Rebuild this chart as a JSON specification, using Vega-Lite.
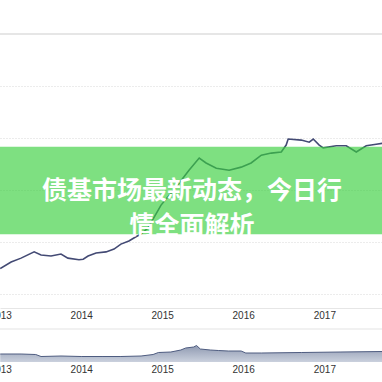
{
  "$schema": "https://vega.github.io/schema/vega-lite/v6.json",
  "width": 382,
  "height": 382,
  "padding": 0,
  "autosize": {"type": "none"},
  "background": "#ffffff",
  "config": {"view": {"stroke": null}},
  "datasets": {
    "fund": [
      {"date": "2013-01-01", "nav": 1.049},
      {"date": "2013-02-19", "nav": 1.0615},
      {"date": "2013-04-05", "nav": 1.069},
      {"date": "2013-06-03", "nav": 1.081},
      {"date": "2013-07-04", "nav": 1.075},
      {"date": "2013-08-18", "nav": 1.073},
      {"date": "2013-10-02", "nav": 1.077},
      {"date": "2013-11-02", "nav": 1.069},
      {"date": "2013-12-22", "nav": 1.066},
      {"date": "2014-01-10", "nav": 1.067},
      {"date": "2014-02-01", "nav": 1.073},
      {"date": "2014-03-09", "nav": 1.079},
      {"date": "2014-04-23", "nav": 1.081},
      {"date": "2014-05-29", "nav": 1.0865},
      {"date": "2014-06-29", "nav": 1.096},
      {"date": "2014-08-04", "nav": 1.102},
      {"date": "2014-09-05", "nav": 1.110},
      {"date": "2014-09-28", "nav": 1.1154},
      {"date": "2014-10-29", "nav": 1.127},
      {"date": "2014-12-27", "nav": 1.171},
      {"date": "2015-03-05", "nav": 1.206},
      {"date": "2015-05-02", "nav": 1.238},
      {"date": "2015-06-17", "nav": 1.2615},
      {"date": "2015-07-18", "nav": 1.252},
      {"date": "2015-09-02", "nav": 1.242},
      {"date": "2015-10-30", "nav": 1.238},
      {"date": "2015-12-23", "nav": 1.244},
      {"date": "2016-02-06", "nav": 1.252},
      {"date": "2016-03-23", "nav": 1.267},
      {"date": "2016-05-07", "nav": 1.271},
      {"date": "2016-06-21", "nav": 1.273},
      {"date": "2016-07-13", "nav": 1.2865},
      {"date": "2016-07-22", "nav": 1.298},
      {"date": "2016-09-19", "nav": 1.296},
      {"date": "2016-10-25", "nav": 1.292},
      {"date": "2016-11-12", "nav": 1.298},
      {"date": "2016-12-09", "nav": 1.2865},
      {"date": "2016-12-27", "nav": 1.281},
      {"date": "2017-02-24", "nav": 1.285},
      {"date": "2017-04-10", "nav": 1.285},
      {"date": "2017-05-25", "nav": 1.273},
      {"date": "2017-07-09", "nav": 1.285},
      {"date": "2017-08-23", "nav": 1.288},
      {"date": "2017-09-23", "nav": 1.290}
    ],
    "navigator": [
      {"date": "2013-01-01", "v": 8},
      {"date": "2013-04-05", "v": 8},
      {"date": "2013-06-10", "v": 7.5},
      {"date": "2013-07-04", "v": 5.5},
      {"date": "2013-10-02", "v": 6},
      {"date": "2014-01-01", "v": 5.5},
      {"date": "2014-04-05", "v": 5.5},
      {"date": "2014-06-29", "v": 5.5},
      {"date": "2014-09-28", "v": 6},
      {"date": "2014-11-21", "v": 7.5},
      {"date": "2014-12-15", "v": 9.5},
      {"date": "2015-02-09", "v": 10},
      {"date": "2015-03-26", "v": 12},
      {"date": "2015-04-17", "v": 14},
      {"date": "2015-05-23", "v": 15},
      {"date": "2015-06-05", "v": 16.5},
      {"date": "2015-06-22", "v": 13},
      {"date": "2015-08-06", "v": 12},
      {"date": "2015-09-11", "v": 11.5},
      {"date": "2015-10-26", "v": 11},
      {"date": "2015-12-23", "v": 11},
      {"date": "2016-01-13", "v": 9},
      {"date": "2016-03-23", "v": 9},
      {"date": "2016-09-19", "v": 9.5},
      {"date": "2017-03-13", "v": 10},
      {"date": "2017-09-23", "v": 10.5}
    ],
    "banner": [
      {"title": "债基市场最新动态，今日行\n情全面解析"}
    ]
  },
  "resolve": {
    "scale": {"y": "independent"},
    "axis": {"x": "independent", "y": "independent"}
  },
  "layer": [
    {
      "data": {"name": "fund"},
      "mark": {"type": "line", "color": "#434a74", "strokeWidth": 1.6, "clip": true},
      "encoding": {
        "x": {
          "field": "date", "type": "temporal",
          "scale": {"domain": [{"year": 2012, "month": 12, "date": 31}, {"year": 2017, "month": 9, "date": 18}]},
          "axis": {
            "orient": "bottom", "offset": -74, "title": null, "grid": false, "ticks": false,
            "domainColor": "#e6e6e6", "domainWidth": 1,
            "values": [{"year": 2013}, {"year": 2014}, {"year": 2015}, {"year": 2016}, {"year": 2017}],
            "format": "%Y", "labelFlush": false, "labelOverlap": false,
            "labelFont": "Liberation Sans", "labelFontSize": 10, "labelColor": "#333333", "labelPadding": 2
          }
        },
        "y": {
          "field": "nav", "type": "quantitative",
          "scale": {"domain": [0.8308, 1.5654], "zero": false, "nice": false},
          "axis": {
            "values": [1.0, 1.1, 1.2, 1.3, 1.4], "labels": false, "ticks": false, "domain": false,
            "title": null, "grid": true, "gridColor": "#d9d9d9", "gridDash": [1, 2], "gridWidth": 1
          }
        }
      }
    },
    {
      "data": {"values": [{}]},
      "mark": {"type": "rule", "color": "#e6e6e6", "strokeWidth": 2},
      "encoding": {
        "y": {"datum": 1.5, "type": "quantitative", "scale": {"domain": [0.8308, 1.5654], "zero": false, "nice": false}, "axis": null}
      }
    },
    {
      "data": {"name": "navigator"},
      "mark": {
        "type": "area", "clip": true, "line": {"color": "#4e5c80", "strokeWidth": 1},
        "color": {
          "gradient": "linear", "x1": 0, "y1": 0, "x2": 0, "y2": 1,
          "stops": [{"offset": 0, "color": "#5f6e90"}, {"offset": 1, "color": "#b4bdcf"}]
        }
      },
      "encoding": {
        "x": {
          "field": "date", "type": "temporal",
          "axis": {
            "orient": "bottom", "offset": -20, "title": null, "grid": false, "ticks": false, "domain": false,
            "values": [{"year": 2013}, {"year": 2014}, {"year": 2015}, {"year": 2016}, {"year": 2017}],
            "format": "%Y", "labelFlush": false, "labelOverlap": false,
            "labelFont": "Liberation Sans", "labelFontSize": 10, "labelColor": "#333333", "labelPadding": 2
          }
        },
        "y": {"field": "v", "type": "quantitative", "scale": {"domain": [-20, 362], "zero": false, "nice": false}, "axis": null},
        "y2": {"datum": 0}
      }
    },
    {
      "data": {"values": [{}]},
      "mark": {"type": "rule", "color": "#ececec", "strokeWidth": 1.5},
      "encoding": {
        "y": {"datum": 33, "type": "quantitative", "scale": {"domain": [-20, 362], "zero": false, "nice": false}, "axis": null}
      }
    },
    {
      "data": {"values": [{}]},
      "mark": {"type": "rect", "color": "#39cf3d", "opacity": 0.65, "clip": true},
      "encoding": {
        "x": {"datum": {"year": 2012, "month": 1, "date": 1}, "type": "temporal", "axis": null},
        "x2": {"datum": {"year": 2019, "month": 1, "date": 1}},
        "y": {"datum": 1.2833, "type": "quantitative", "scale": {"domain": [0.8308, 1.5654], "zero": false, "nice": false}, "axis": null},
        "y2": {"datum": 1.1148}
      }
    },
    {
      "data": {"name": "banner"},
      "mark": {
        "type": "text", "font": "Noto Sans CJK SC", "fontWeight": "bold", "fontSize": 25,
        "color": "#ffffff", "align": "center", "baseline": "middle", "lineBreak": "\n", "lineHeight": 35
      },
      "encoding": {
        "text": {"field": "title", "type": "nominal"},
        "x": {"datum": {"year": 2015, "month": 5, "date": 16}, "type": "temporal", "axis": null},
        "y": {"datum": 1.199, "type": "quantitative", "scale": {"domain": [0.8308, 1.5654], "zero": false, "nice": false}, "axis": null}
      }
    }
  ]
}
